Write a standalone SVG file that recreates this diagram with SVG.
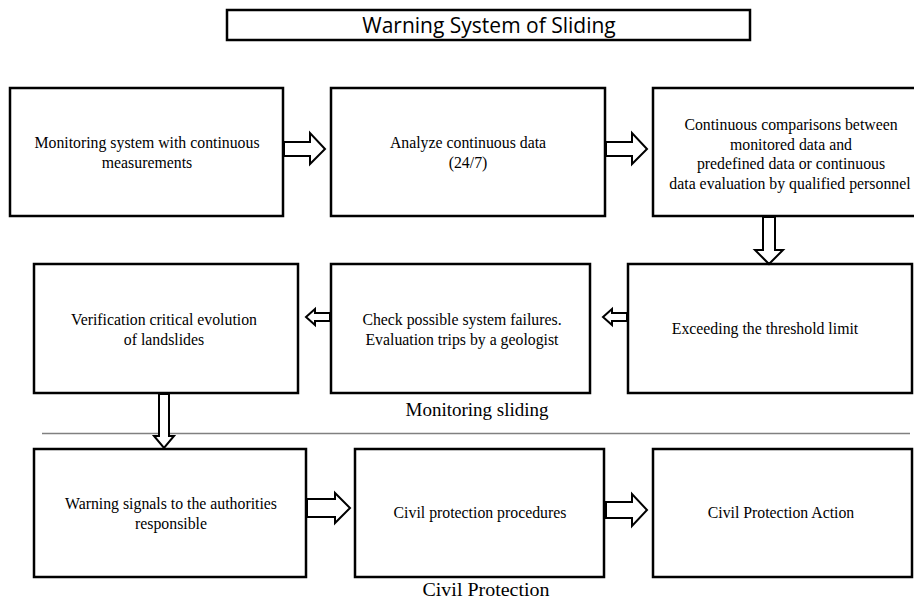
<svg xmlns="http://www.w3.org/2000/svg" width="914" height="600" viewBox="0 0 914 600">
<style>
.box{fill:#fff;stroke:#000;stroke-width:2.5}
.t{font-family:"Liberation Serif","Times New Roman",serif;font-size:15.8px;fill:#000;text-anchor:middle}
.lbl{font-family:"Liberation Serif","Times New Roman",serif;font-size:19px;fill:#000;text-anchor:middle}
.arr{fill:#fff;stroke:#000;stroke-width:2;stroke-linejoin:miter}
</style>
<rect width="914" height="600" fill="#fff"/>
<g id="title">
<rect x="227" y="10" width="523" height="30" fill="#fff" stroke="#000" stroke-width="2.5"/>
<text x="489" y="33" font-family="'Open Sans','Liberation Sans',sans-serif" font-size="21" text-anchor="middle">Warning System of Sliding</text>
</g>
<g id="n1"><rect class="box" x="10" y="88" width="273" height="128"/>
<text class="t" x="147" y="148">Monitoring system with continuous</text>
<text class="t" x="147" y="168">measurements</text></g>
<g id="n2"><rect class="box" x="331" y="88" width="274" height="128"/>
<text class="t" x="468" y="148">Analyze continuous data</text>
<text class="t" x="468" y="168">(24/7)</text></g>
<g id="n3"><rect class="box" x="653" y="88" width="270" height="128"/>
<text class="t" x="791" y="130">Continuous comparisons  between</text>
<text class="t" x="791" y="150">monitored data and</text>
<text class="t" x="791" y="169">predefined data or continuous</text>
<text class="t" x="790" y="189">data evaluation by qualified personnel</text></g>
<g id="n4"><rect class="box" x="34" y="264" width="264" height="129"/>
<text class="t" x="164" y="325">Verification critical  evolution</text>
<text class="t" x="164" y="345">of landslides</text></g>
<g id="n5"><rect class="box" x="331" y="264" width="259" height="129"/>
<text class="t" x="462" y="325">Check possible system failures.</text>
<text class="t" x="462" y="345">Evaluation trips by a geologist</text></g>
<g id="n6"><rect class="box" x="628" y="264" width="284" height="129"/>
<text class="t" x="765" y="334">Exceeding the threshold limit</text></g>
<g id="n7"><rect class="box" x="34" y="449" width="272" height="128"/>
<text class="t" x="171" y="509">Warning signals to the authorities</text>
<text class="t" x="171" y="529">responsible</text></g>
<g id="n8"><rect class="box" x="355" y="449" width="249" height="128"/>
<text class="t" x="480" y="518">Civil protection procedures</text></g>
<g id="n9"><rect class="box" x="653" y="449" width="259" height="128"/>
<text class="t" x="781" y="518">Civil Protection Action</text></g>
<g id="labels">
<line x1="42" y1="433.5" x2="910" y2="433.5" stroke="#808080" stroke-width="1.5"/>
<text class="lbl" x="477" y="416" textLength="143" lengthAdjust="spacingAndGlyphs">Monitoring sliding</text>
<text class="lbl" x="486" y="596" textLength="127" lengthAdjust="spacingAndGlyphs">Civil Protection</text>
</g>
<g id="connectors">
<polygon class="arr" points="284,142 310,142 310,133 325,149 310,164 310,156 284,156"/>
<polygon class="arr" points="606,142 632,142 632,133 647,149 632,164 632,156 606,156"/>
<polygon class="arr" points="763,217 775,217 775,250 783,250 769,264 755,250 763,250"/>
<polygon class="arr" points="330,313 315,313 315,309 306,317 315,325 315,321 330,321"/>
<polygon class="arr" points="627,313 612,313 612,309 603,317 612,325 612,321 627,321"/>
<polygon class="arr" points="159,394 169,394 169,436 174,436 164,448 154,436 159,436"/>
<polygon class="arr" points="307,499 335,499 335,493 350,508 335,523 335,517 307,517"/>
<polygon class="arr" points="606,502 632,502 632,494 647,510 632,526 632,518 606,518"/>
</g>
</svg>
